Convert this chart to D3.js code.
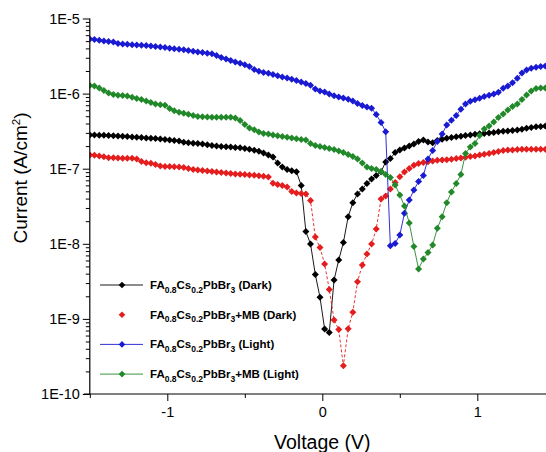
<!DOCTYPE html>
<html>
<head>
<meta charset="utf-8">
<script src="https://cdnjs.cloudflare.com/ajax/libs/d3/7.8.5/d3.min.js"></script>
<style>
  html, body { margin: 0; padding: 0; background: #fff; }
  svg { display: block; font-family: "Liberation Sans", Arial, sans-serif; }
</style>
</head>
<body>
<svg id="chart" width="546" height="452"></svg>
<script>
// Voltage sweep (V)
const voltage = [
  -1.500,-1.470,-1.439,-1.409,-1.379,-1.348,-1.318,-1.288,-1.258,-1.227,
  -1.197,-1.167,-1.136,-1.106,-1.076,-1.045,-1.015,-0.985,-0.955,-0.924,
  -0.894,-0.864,-0.833,-0.803,-0.773,-0.742,-0.712,-0.682,-0.652,-0.621,
  -0.591,-0.561,-0.530,-0.500,-0.470,-0.439,-0.409,-0.379,-0.348,-0.318,
  -0.288,-0.258,-0.227,-0.197,-0.167,-0.136,-0.106,-0.076,-0.045,-0.015,
   0.015, 0.045, 0.076, 0.106, 0.136, 0.167, 0.197, 0.227, 0.258, 0.288,
   0.318, 0.348, 0.379, 0.409, 0.439, 0.470, 0.500, 0.530, 0.561, 0.591,
   0.621, 0.652, 0.682, 0.712, 0.742, 0.773, 0.803, 0.833, 0.864, 0.894,
   0.924, 0.955, 0.985, 1.015, 1.045, 1.076, 1.106, 1.136, 1.167, 1.197,
   1.227, 1.258, 1.288, 1.318, 1.348, 1.379, 1.409, 1.439, 1.470, 1.500
];

// Current density (A/cm^2)
const darkFA = [
  2.81e-7,2.81e-7,2.79e-7,2.78e-7,2.77e-7,2.74e-7,2.73e-7,2.70e-7,2.68e-7,2.64e-7,
  2.62e-7,2.60e-7,2.56e-7,2.54e-7,2.52e-7,2.49e-7,2.45e-7,2.41e-7,2.37e-7,2.34e-7,
  2.25e-7,2.21e-7,2.19e-7,2.16e-7,2.13e-7,2.09e-7,2.04e-7,2.01e-7,1.98e-7,1.96e-7,
  1.94e-7,1.92e-7,1.90e-7,1.86e-7,1.81e-7,1.76e-7,1.71e-7,1.62e-7,1.52e-7,1.43e-7,
  1.19e-7,1.05e-7,9.76e-8,9.41e-8,9.12e-8,5.98e-8,1.46e-8,9.94e-9,3.90e-9,1.94e-9,
  7.34e-10,6.57e-10,3.30e-9,6.09e-9,1.04e-8,2.30e-8,3.53e-8,4.61e-8,5.37e-8,6.35e-8,
  7.29e-8,8.12e-8,9.12e-8,1.23e-7,1.37e-7,1.64e-7,1.78e-7,1.89e-7,2.01e-7,2.13e-7,
  2.30e-7,2.41e-7,2.27e-7,2.22e-7,2.37e-7,2.46e-7,2.54e-7,2.60e-7,2.67e-7,2.71e-7,
  2.77e-7,2.81e-7,2.87e-7,2.92e-7,2.94e-7,2.99e-7,3.04e-7,3.11e-7,3.15e-7,3.18e-7,
  3.23e-7,3.28e-7,3.36e-7,3.45e-7,3.54e-7,3.61e-7,3.66e-7,3.70e-7,3.76e-7,3.82e-7
];
const darkFAMB = [
  1.52e-7,1.51e-7,1.48e-7,1.44e-7,1.40e-7,1.40e-7,1.39e-7,1.38e-7,1.38e-7,1.38e-7,
  1.35e-7,1.25e-7,1.20e-7,1.18e-7,1.14e-7,1.09e-7,1.07e-7,1.07e-7,1.06e-7,1.05e-7,
  1.04e-7,1.01e-7,9.73e-8,9.61e-8,9.46e-8,9.32e-8,9.18e-8,9.04e-8,8.90e-8,8.77e-8,
  8.61e-8,8.50e-8,8.42e-8,8.35e-8,8.24e-8,8.17e-8,8.07e-8,7.95e-8,7.76e-8,6.40e-8,
  6.16e-8,5.98e-8,5.71e-8,4.96e-8,4.74e-8,4.66e-8,4.61e-8,3.77e-8,1.23e-8,8.93e-9,
  5.38e-9,2.47e-9,9.67e-10,7.21e-10,2.38e-10,7.41e-10,1.23e-9,3.13e-9,5.22e-9,7.31e-9,
  9.94e-9,1.57e-8,3.95e-8,4.33e-8,5.37e-8,6.55e-8,7.83e-8,9.04e-8,1.01e-7,1.11e-7,
  1.17e-7,1.21e-7,1.24e-7,1.27e-7,1.30e-7,1.31e-7,1.32e-7,1.34e-7,1.37e-7,1.39e-7,
  1.42e-7,1.45e-7,1.48e-7,1.52e-7,1.56e-7,1.59e-7,1.64e-7,1.70e-7,1.75e-7,1.77e-7,
  1.78e-7,1.80e-7,1.81e-7,1.81e-7,1.81e-7,1.81e-7,1.81e-7,1.81e-7,1.82e-7,1.83e-7
];
const lightFA = [
  5.34e-6,5.25e-6,5.13e-6,5.02e-6,4.94e-6,4.87e-6,4.65e-6,4.58e-6,4.53e-6,4.48e-6,
  4.44e-6,4.41e-6,4.37e-6,4.32e-6,4.25e-6,4.17e-6,4.10e-6,4.02e-6,3.97e-6,3.90e-6,
  3.83e-6,3.75e-6,3.66e-6,3.58e-6,3.52e-6,3.45e-6,3.39e-6,3.22e-6,3.03e-6,2.89e-6,
  2.76e-6,2.64e-6,2.53e-6,2.43e-6,2.30e-6,2.09e-6,1.99e-6,1.91e-6,1.86e-6,1.80e-6,
  1.73e-6,1.66e-6,1.61e-6,1.55e-6,1.49e-6,1.43e-6,1.36e-6,1.29e-6,1.15e-6,1.08e-6,
  1.05e-6,9.88e-7,9.35e-7,9.01e-7,8.74e-7,8.40e-7,7.97e-7,7.38e-7,6.94e-7,6.63e-7,
  6.37e-7,5.27e-7,4.12e-7,3.11e-7,9.43e-9,1.01e-8,1.31e-8,2.55e-8,3.83e-8,5.21e-8,
  6.75e-8,8.12e-8,1.35e-7,1.75e-7,2.30e-7,2.90e-7,3.82e-7,4.41e-7,5.11e-7,6.18e-7,
  7.27e-7,7.92e-7,8.27e-7,8.69e-7,9.15e-7,9.52e-7,9.88e-7,1.04e-6,1.18e-6,1.26e-6,
  1.39e-6,1.60e-6,1.88e-6,2.06e-6,2.18e-6,2.25e-6,2.30e-6,2.33e-6,2.35e-6,2.37e-6
];
const lightFAMB = [
  1.28e-6,1.26e-6,1.19e-6,1.10e-6,1.02e-6,9.73e-7,9.52e-7,9.43e-7,9.29e-7,8.93e-7,
  8.61e-7,8.35e-7,7.97e-7,7.61e-7,7.27e-7,7.12e-7,7.01e-7,6.33e-7,5.90e-7,5.64e-7,
  5.47e-7,5.32e-7,5.11e-7,4.96e-7,4.91e-7,4.88e-7,4.85e-7,4.84e-7,4.84e-7,4.84e-7,
  4.84e-7,4.73e-7,4.38e-7,3.89e-7,3.48e-7,3.30e-7,3.09e-7,2.94e-7,2.90e-7,2.81e-7,
  2.75e-7,2.68e-7,2.62e-7,2.56e-7,2.50e-7,2.45e-7,2.41e-7,2.17e-7,2.04e-7,1.98e-7,
  1.92e-7,1.86e-7,1.80e-7,1.72e-7,1.64e-7,1.55e-7,1.45e-7,1.35e-7,1.19e-7,1.05e-7,
  1.01e-7,9.76e-8,9.18e-8,8.37e-8,7.64e-8,6.07e-8,4.47e-8,3.19e-8,1.89e-8,9.20e-9,
  4.62e-9,6.28e-9,7.66e-9,9.64e-9,1.61e-8,2.30e-8,3.53e-8,4.89e-8,6.35e-8,8.37e-8,
  1.59e-7,1.95e-7,2.17e-7,2.77e-7,3.38e-7,3.70e-7,4.19e-7,4.81e-7,5.35e-7,6.05e-7,
  6.73e-7,7.27e-7,8.35e-7,9.58e-7,1.08e-6,1.17e-6,1.19e-6,1.19e-6,1.19e-6,1.21e-6
];

const xTicks = [-1, 0, 1];
const xTickLabels = ["-1", "0", "1"];
const xMinorTicks = [-1.5, -0.5, 0.5, 1.5];
const yTicks = [1e-10, 1e-9, 1e-8, 1e-7, 1e-6, 1e-5];
const yTickLabels = ["1E-10", "1E-9", "1E-8", "1E-7", "1E-6", "1E-5"];

// Legend text: [base, subscript] pieces
const seriesDefs = [
  { name: "dark",   values: darkFA,    color: "#000000", dash: null,  legendLine: true,
    label: [["FA", "0.8"], ["Cs", "0.2"], ["PbBr", "3"], [" (Dark)", null]] },
  { name: "darkMB", values: darkFAMB,  color: "#e41e1e", dash: "3,2", legendLine: false,
    label: [["FA", "0.8"], ["Cs", "0.2"], ["PbBr", "3"], ["+MB (Dark)", null]] },
  { name: "light",  values: lightFA,   color: "#1a1ad2", dash: null,  legendLine: true,
    label: [["FA", "0.8"], ["Cs", "0.2"], ["PbBr", "3"], [" (Light)", null]] },
  { name: "lightMB",values: lightFAMB, color: "#22892a", dash: null,  legendLine: true,
    label: [["FA", "0.8"], ["Cs", "0.2"], ["PbBr", "3"], ["+MB (Light)", null]] }
];

const svg = d3.select("#chart");
const plot = { left: 89.8, right: 554.8, top: 18.5, bottom: 394 };

const x = d3.scaleLinear().domain([-1.5, 1.5]).range([plot.left, plot.right]);
const y = d3.scaleLog().domain([1e-10, 1e-5]).range([plot.bottom, plot.top]);

const diamond = (r) => `M0,${-r}L${r},0L0,${r}L${-r},0Z`;

// clip to the plotting region
svg.append("defs").append("clipPath").attr("id", "plotClip")
  .append("rect")
  .attr("x", plot.left).attr("y", plot.top - 6)
  .attr("width", plot.right - plot.left).attr("height", plot.bottom - plot.top + 12);

const marks = svg.append("g").attr("clip-path", "url(#plotClip)");
const line = d3.line().x(d => x(d[0])).y(d => y(d[1]));

seriesDefs.forEach(s => {
  const pts = voltage.map((v, i) => [v, s.values[i]]);
  const g = marks.append("g").attr("class", "series " + s.name);
  g.append("path")
    .datum(pts)
    .attr("d", line)
    .attr("fill", "none")
    .attr("stroke", s.color)
    .attr("stroke-width", 0.9)
    .attr("stroke-dasharray", s.dash);
  g.selectAll("path.pt").data(pts).enter().append("path")
    .attr("class", "pt")
    .attr("d", diamond(3.5))
    .attr("transform", d => `translate(${x(d[0])},${y(d[1])})`)
    .attr("fill", s.color);
});

// Y axis: decade ticks plus minor ticks at 2..9
const yMinor = [];
for (let e = -10; e < -5; e++) for (let m = 2; m <= 9; m++) yMinor.push(m * Math.pow(10, e));

const yAxisG = svg.append("g").attr("transform", `translate(${plot.left},0)`);
yAxisG.append("g")
  .call(d3.axisLeft(y).tickValues(yMinor).tickSize(4).tickFormat(""))
  .call(g => g.select(".domain").remove())
  .call(g => g.selectAll("text").remove());
yAxisG.append("g").call(
  d3.axisLeft(y).tickValues(yTicks).tickSize(7).tickPadding(3)
    .tickFormat((d, i) => yTickLabels[i]))
  .call(g => g.select(".domain").attr("d", `M0,${plot.top}V${plot.bottom}`));
yAxisG.selectAll("line").attr("stroke", "#000").attr("stroke-width", 1);
yAxisG.selectAll(".domain").attr("stroke", "#000").attr("stroke-width", 1.2);
yAxisG.selectAll("text")
  .attr("font-size", 14.5).attr("fill", "#000")
  .attr("font-family", "'Liberation Sans', Arial, sans-serif");

// X axis
const xAxisG = svg.append("g").attr("transform", `translate(0,${plot.bottom})`);
xAxisG.append("g")
  .call(d3.axisBottom(x).tickValues(xMinorTicks).tickSize(4).tickFormat(""))
  .call(g => g.select(".domain").remove())
  .call(g => g.selectAll("text").remove());
xAxisG.append("g").call(d3.axisBottom(x).tickValues(xTicks).tickSize(7).tickPadding(6)
    .tickFormat((d, i) => xTickLabels[i]))
  .call(g => g.select(".domain").attr("d", `M${plot.left - 6},0H${plot.right}`));
xAxisG.selectAll("line").attr("stroke", "#000").attr("stroke-width", 1);
xAxisG.selectAll(".domain").attr("stroke", "#000").attr("stroke-width", 1.2);
xAxisG.selectAll("text")
  .attr("font-size", 14.5).attr("fill", "#000")
  .attr("font-family", "'Liberation Sans', Arial, sans-serif");

// Axis titles
svg.append("text")
  .attr("x", x(0)).attr("y", 449)
  .attr("text-anchor", "middle")
  .attr("font-size", 19.5)
  .text("Voltage (V)");

const yTitle = svg.append("text")
  .attr("transform", "translate(27,178) rotate(-90)")
  .attr("text-anchor", "middle")
  .attr("font-size", 19);
yTitle.append("tspan").text("Current (A/cm");
yTitle.append("tspan").attr("font-size", 11.5).attr("dy", -7.5).text("2");
yTitle.append("tspan").attr("dy", 7.5).text(")");

// Legend
const legend = svg.append("g").attr("transform", "translate(100,285)");
seriesDefs.forEach((s, i) => {
  const row = legend.append("g").attr("transform", `translate(0,${i * 29.7})`);
  if (s.legendLine) {
    row.append("line").attr("x1", 0).attr("x2", 43).attr("y1", 0).attr("y2", 0)
      .attr("stroke", s.color).attr("stroke-width", 0.9);
  }
  row.append("path").attr("d", diamond(3.3)).attr("transform", "translate(22,0)")
    .attr("fill", s.color);
  const t = row.append("text").attr("x", 50).attr("y", 4)
    .attr("font-size", 11.5).attr("font-weight", "bold");
  let lowered = false;
  s.label.forEach(([base, sub]) => {
    t.append("tspan").attr("dy", lowered ? -3.5 : 0).text(base);
    lowered = false;
    if (sub) {
      t.append("tspan").attr("font-size", 8.5).attr("dy", 3.5).text(sub);
      lowered = true;
    }
  });
});
</script>
</body>
</html>
